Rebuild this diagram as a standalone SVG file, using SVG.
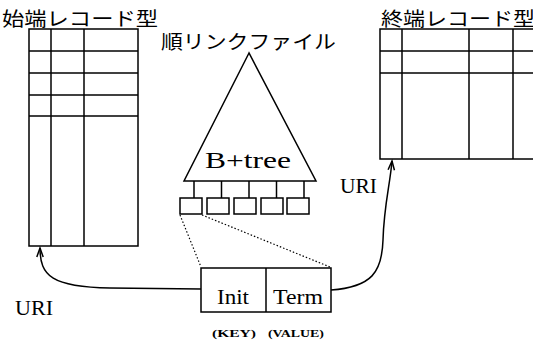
<svg xmlns="http://www.w3.org/2000/svg" width="533" height="341" viewBox="0 0 533 341">
<style>
.ln{fill:none;stroke:#000;stroke-width:1.5}
.dot{fill:none;stroke:#000;stroke-width:1.2;stroke-dasharray:1.5 2}
.jp{font-family:"Noto Sans CJK JP","Noto Sans CJK SC",sans-serif;font-size:19px;fill:#000}
text.sf{font-family:'Liberation Serif','DejaVu Serif',serif;fill:#000}
</style>
<defs>
<marker id="arr" markerWidth="12" markerHeight="10" viewBox="-10 -5 12 10" refX="0" refY="0" orient="auto" markerUnits="userSpaceOnUse">
<path d="M-9,-3.2 L0,0 L-9,3.2" fill="none" stroke="#000" stroke-width="1.5"/>
</marker>
</defs>
<rect width="533" height="341" fill="#fff"/>
<g id="init-record">
<text class="jp" x="2" y="26" textLength="156" lengthAdjust="spacingAndGlyphs">始端レコード型</text>
<rect class="ln" x="29" y="29" width="109" height="217"/>
<line class="ln" x1="51" y1="29" x2="51" y2="246"/>
<line class="ln" x1="84" y1="29" x2="84" y2="246"/>
<line class="ln" x1="29" y1="51" x2="138" y2="51"/>
<line class="ln" x1="29" y1="73" x2="138" y2="73"/>
<line class="ln" x1="29" y1="95" x2="138" y2="95"/>
<line class="ln" x1="29" y1="116" x2="138" y2="116"/>
</g>
<g id="term-record">
<text class="jp" x="381" y="26" textLength="154" lengthAdjust="spacingAndGlyphs">終端レコード型</text>
<rect class="ln" x="380" y="29" width="170" height="130"/>
<line class="ln" x1="402" y1="29" x2="402" y2="159"/>
<line class="ln" x1="469" y1="29" x2="469" y2="159"/>
<line class="ln" x1="513" y1="29" x2="513" y2="159"/>
<line class="ln" x1="380" y1="51" x2="540" y2="51"/>
<line class="ln" x1="380" y1="73" x2="540" y2="73"/>
</g>
<g id="btree">
<text class="jp" x="161" y="49" textLength="175" lengthAdjust="spacingAndGlyphs">順リンクファイル</text>
<polygon class="ln" points="249,53 184,181 316,181"/>
<text class="sf" x="205" y="168" font-size="23" textLength="86" lengthAdjust="spacingAndGlyphs" style="font-family:'Liberation Serif',serif">B+tree</text>
<line class="ln" x1="194" y1="181" x2="194" y2="198"/>
<line class="ln" x1="221.5" y1="181" x2="221.5" y2="198"/>
<line class="ln" x1="249" y1="181" x2="249" y2="198"/>
<line class="ln" x1="276.5" y1="181" x2="276.5" y2="198"/>
<line class="ln" x1="304" y1="181" x2="304" y2="198"/>
<rect class="ln" x="180" y="198" width="22" height="16"/>
<rect class="ln" x="207" y="198" width="22" height="16"/>
<rect class="ln" x="234" y="198" width="22" height="16"/>
<rect class="ln" x="261" y="198" width="22" height="16"/>
<rect class="ln" x="287" y="198" width="22" height="16"/>
</g>
<g id="entry">
<rect class="ln" x="201" y="268" width="130" height="44"/>
<line class="ln" x1="266" y1="268" x2="266" y2="312"/>
<text class="sf" x="217" y="304" font-size="22" textLength="32" lengthAdjust="spacingAndGlyphs" style="font-family:'Liberation Serif',serif">Init</text>
<text class="sf" x="273" y="304" font-size="22" textLength="50" lengthAdjust="spacingAndGlyphs" style="font-family:'Liberation Serif',serif">Term</text>
<text class="sf" x="212" y="337" font-size="11" font-weight="bold" textLength="44" lengthAdjust="spacingAndGlyphs" style="font-family:'Liberation Serif',serif">(KEY)</text>
<text class="sf" x="268" y="337" font-size="11" font-weight="bold" textLength="56" lengthAdjust="spacingAndGlyphs" style="font-family:'Liberation Serif',serif">(VALUE)</text>
</g>
<g id="uri-labels">
<text class="sf" x="15" y="315" font-size="21" textLength="38" lengthAdjust="spacingAndGlyphs" style="font-family:'Liberation Serif',serif">URI</text>
<text class="sf" x="340" y="193" font-size="21" textLength="37" lengthAdjust="spacingAndGlyphs" style="font-family:'Liberation Serif',serif">URI</text>
</g>
<g id="connectors">
<line class="dot" x1="180" y1="215" x2="201" y2="267"/>
<line class="dot" x1="202" y1="215" x2="330" y2="267"/>
<path class="ln" d="M201,289 L110,288 C52,287 40,276 40,248" marker-end="url(#arr)"/>
<path class="ln" d="M331,290 C372,287 382,272 383,240 C384,205 390,185 392,161" marker-end="url(#arr)"/>
</g>
</svg>
